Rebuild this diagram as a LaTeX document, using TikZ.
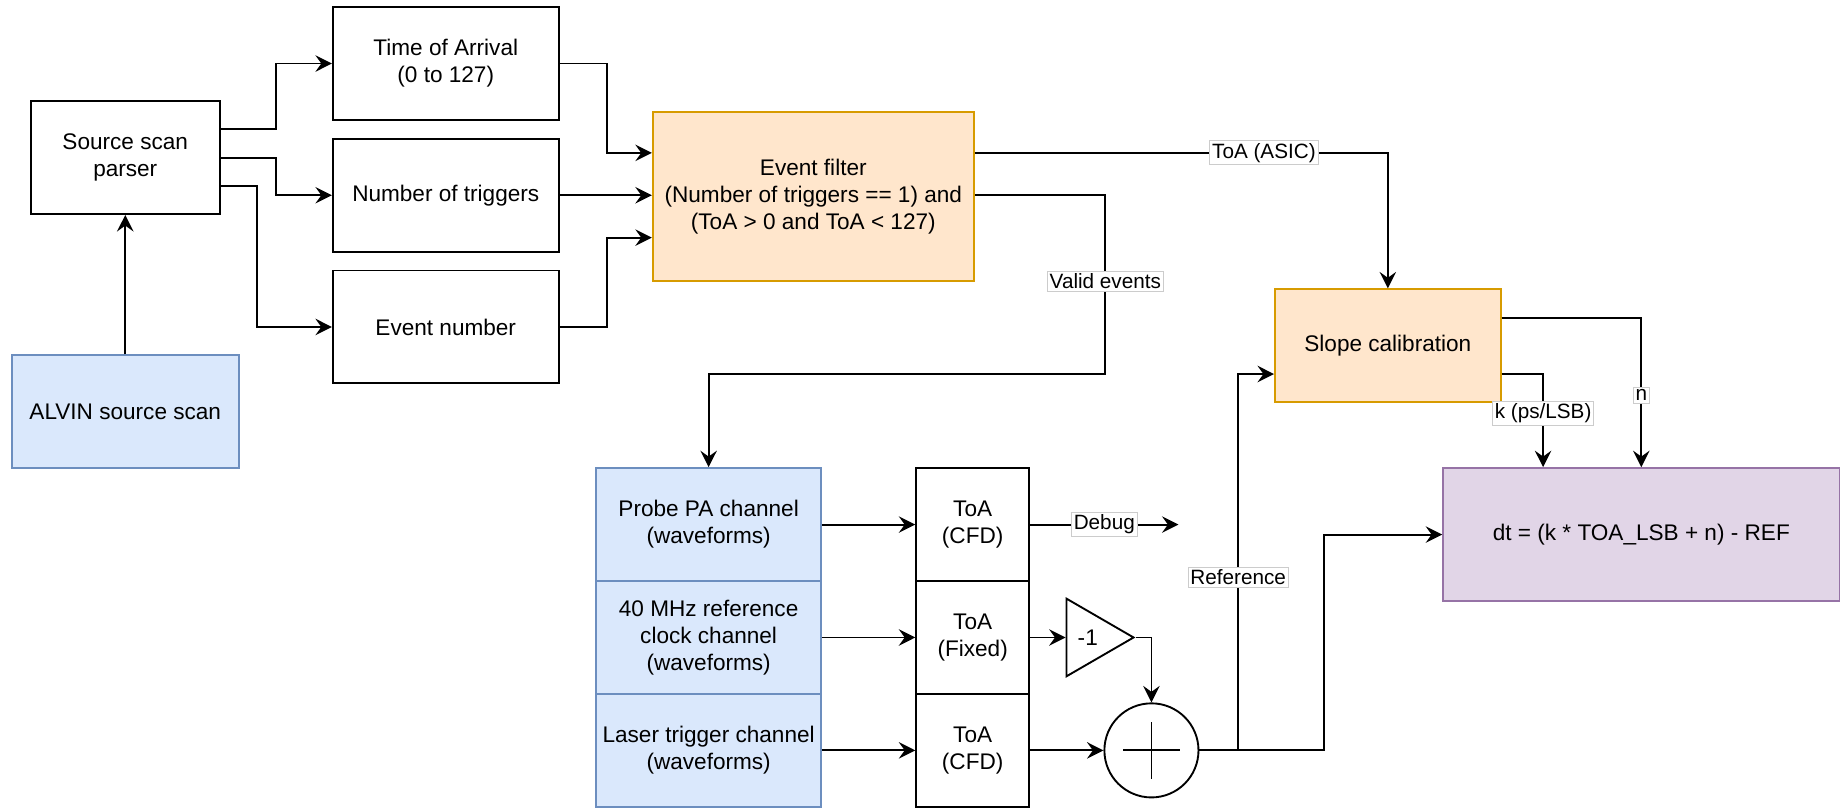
\documentclass[tikz,border=0pt]{standalone}
\usepackage{fontspec}
\setmainfont{Liberation Sans}
\usetikzlibrary{arrows.meta,shapes.geometric}
\definecolor{chanfill}{HTML}{DAE8FC}
\definecolor{chanline}{HTML}{6C8EBF}
\definecolor{procfill}{HTML}{FFE6CC}
\definecolor{procline}{HTML}{D79B00}
\definecolor{outfill}{HTML}{E1D5E7}
\definecolor{outline}{HTML}{9673A6}

\begin{document}
\begin{tikzpicture}[x=0.5pt, y=-0.5pt,
    font=\fontsize{9.6}{11.5}\selectfont,
    box/.style={draw, line width=0.8pt, align=center, inner sep=1pt, minimum width=96pt, minimum height=48pt},
    chan/.style={box, fill=chanfill, draw=chanline, minimum width=95.5pt},
    proc/.style={box, fill=procfill, draw=procline},
    arr/.style={line width=0.8pt, -{Stealth[length=7pt, width=7pt, inset=2.5pt]}},
    lbl/.style={fill=white, draw=black!20, line width=0.4pt, inner sep=1pt, font=\fontsize{8.8}{10}\selectfont}]
    \useasboundingbox (0,0) rectangle (1567,687);

    \node[box, minimum width=80.5pt] (parser) at (106.5,134) {Source scan\\parser};
    \node[chan, minimum width=96.5pt] (alvin) at (106.5,350) {ALVIN source scan};
    \node[box] (toa) at (379,54) {Time of Arrival\\(0 to 127)};
    \node[box] (ntrig) at (379,166) {Number of triggers};
    \node[box] (evnum) at (379,278) {Event number};
    \node[proc, minimum width=136.5pt, minimum height=72pt] (filter) at (691.5,167) {Event filter\\(Number of triggers == 1) and\\(ToA > 0 and ToA < 127)};
    \node[proc] (slope) at (1180,294) {Slope calibration};
    \node[chan] (probe) at (602.5,446) {Probe PA channel\\(waveforms)};
    \node[chan] (clock) at (602.5,542) {40 MHz reference\\clock channel\\(waveforms)};
    \node[chan] (laser) at (602.5,638) {Laser trigger channel\\(waveforms)};
    \node[box, minimum width=48pt] (toa1) at (827,446) {ToA\\(CFD)};
    \node[box, minimum width=48pt] (toa2) at (827,542) {ToA\\(Fixed)};
    \node[box, minimum width=48pt] (toa3) at (827,638) {ToA\\(CFD)};
    \node[draw, line width=0.8pt, isosceles triangle, isosceles triangle stretches, minimum width=33pt, minimum height=28.5pt, inner sep=0pt, anchor=lower side] (neg) at (906,542) {-1};
    \node[draw, line width=0.8pt, circle, minimum size=40pt, inner sep=0pt] (sum) at (979,638) {};
    \node[box, fill=outfill, draw=outline, minimum width=168.5pt, minimum height=56.5pt] (result) at (1395.5,454.5) {dt = (k * TOA\_LSB + n) - REF};
    \coordinate (dbg) at (1002,446);

    \draw[line width=0.8pt] ([xshift=-12pt]sum.center) -- ([xshift=12pt]sum.center);
    \draw[line width=0.8pt] ([yshift=-12pt]sum.center) -- ([yshift=12pt]sum.center);

    \draw[arr] (alvin) -- (parser);
    \draw[arr] ([yshift=12pt]parser.east) -- ++(47,0) |- (toa.west);
    \draw[arr] (parser.east) -- ++(47,0) |- (ntrig.west);
    \draw[arr] ([yshift=-12pt]parser.east) -- ++(31,0) |- (evnum.west);
    \draw[arr] (toa.east) -- ++(40,0) |- ([yshift=18.5pt]filter.west);
    \draw[arr] (ntrig.east) -- (ntrig.east -| filter.west);
    \draw[arr] (evnum.east) -- ++(40,0) |- ([yshift=-17.5pt]filter.west);
    \draw[arr] ([yshift=18.5pt]filter.east) -| node[lbl, pos=0.35] {ToA (ASIC)} (slope.north);
    \draw[arr] (ntrig.east -| filter.east) -| node[lbl, pos=0.74] {Valid events} ++(111,152) -| (probe.north);
    \draw[arr] (probe.east) -- (toa1.west);
    \draw[arr] (clock.east) -- (toa2.west);
    \draw[arr] (laser.east) -- (toa3.west);
    \draw[arr] (toa1.east) -- node[lbl] {Debug} (dbg);
    \draw[arr] (toa2.east) -- (neg.lower side);
    \draw[arr] (neg.apex) -| (sum.north);
    \draw[arr] (toa3.east) -- (sum.west);
    \draw[arr] (sum.east) -- ++(106,0) |- (result.west);
    \draw[arr] (sum.east) ++(33,0) |- node[lbl, pos=0.23] {Reference} ([yshift=-12pt]slope.west);
    \draw[arr] ([yshift=-12pt]slope.east) -| node[lbl, pos=0.71] {k (ps/LSB)} ([xshift=-41.75pt]result.north);
    \draw[arr] ([yshift=12pt]slope.east) -| node[lbl, pos=0.76] {n} (result.north);
\end{tikzpicture}
\end{document}
